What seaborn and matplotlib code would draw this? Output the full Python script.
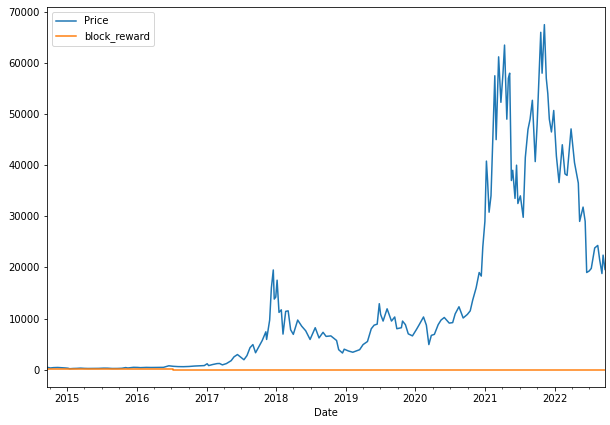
import numpy as np
import pandas as pd
import matplotlib
matplotlib.use("Agg")
import matplotlib.pyplot as plt
import matplotlib.dates as mdates
import seaborn as sns

# Bitcoin closing price (USD)
price_dates = [
    "2014-09-17", "2014-10-05", "2014-10-20", "2014-11-12", "2014-12-01", "2014-12-20",
    "2015-01-05", "2015-01-14", "2015-02-01", "2015-02-20", "2015-03-12", "2015-04-01",
    "2015-04-20", "2015-05-15", "2015-06-15", "2015-07-12", "2015-08-01", "2015-08-25",
    "2015-09-20", "2015-10-15", "2015-11-04", "2015-11-15", "2015-12-15", "2016-01-05",
    "2016-01-20", "2016-02-20", "2016-03-15", "2016-04-15", "2016-05-20", "2016-06-17",
    "2016-07-10", "2016-08-05", "2016-09-01", "2016-10-01", "2016-10-30", "2016-11-25",
    "2016-12-20", "2017-01-04", "2017-01-12", "2017-02-01", "2017-02-25", "2017-03-10",
    "2017-03-25", "2017-04-15", "2017-05-10", "2017-05-25", "2017-06-12", "2017-06-25",
    "2017-07-16", "2017-08-01", "2017-08-17", "2017-09-01", "2017-09-15", "2017-10-01",
    "2017-10-20", "2017-11-08", "2017-11-12", "2017-11-28", "2017-12-07", "2017-12-17",
    "2017-12-22", "2017-12-30", "2018-01-06", "2018-01-16", "2018-01-28", "2018-02-06",
    "2018-02-20", "2018-03-05", "2018-03-18", "2018-04-01", "2018-04-24", "2018-05-15",
    "2018-06-05", "2018-06-28", "2018-07-25", "2018-08-14", "2018-09-04", "2018-09-20",
    "2018-10-15", "2018-11-14", "2018-11-25", "2018-12-15", "2018-12-24", "2019-01-15",
    "2019-02-07", "2019-03-15", "2019-04-02", "2019-04-25", "2019-05-15", "2019-05-30",
    "2019-06-15", "2019-06-26", "2019-07-03", "2019-07-16", "2019-08-06", "2019-08-29",
    "2019-09-15", "2019-09-26", "2019-10-20", "2019-10-26", "2019-11-10", "2019-11-25",
    "2019-12-17", "2020-01-06", "2020-01-20", "2020-02-13", "2020-02-28", "2020-03-12",
    "2020-03-25", "2020-04-10", "2020-04-30", "2020-05-15", "2020-06-01", "2020-06-27",
    "2020-07-15", "2020-07-28", "2020-08-17", "2020-09-08", "2020-09-30", "2020-10-15",
    "2020-10-28", "2020-11-15", "2020-12-01", "2020-12-12", "2020-12-20", "2020-12-31",
    "2021-01-08", "2021-01-14", "2021-01-22", "2021-02-01", "2021-02-10", "2021-02-21",
    "2021-02-28", "2021-03-13", "2021-03-25", "2021-04-05", "2021-04-13", "2021-04-25",
    "2021-05-03", "2021-05-10", "2021-05-19", "2021-05-26", "2021-06-07", "2021-06-15",
    "2021-06-22", "2021-07-05", "2021-07-20", "2021-07-31", "2021-08-14", "2021-08-25",
    "2021-09-06", "2021-09-21", "2021-10-01", "2021-10-20", "2021-10-27", "2021-11-08",
    "2021-11-18", "2021-11-26", "2021-12-04", "2021-12-15", "2021-12-27", "2022-01-10",
    "2022-01-24", "2022-02-10", "2022-02-24", "2022-03-07", "2022-03-28", "2022-04-15",
    "2022-05-05", "2022-05-12", "2022-05-30", "2022-06-10", "2022-06-18", "2022-07-01",
    "2022-07-12", "2022-07-30", "2022-08-15", "2022-08-25", "2022-09-06", "2022-09-12",
    "2022-09-22",
]
price_values = [
    457, 320, 390, 420, 380, 330,
    275, 178, 225, 245, 290, 245,
    225, 237, 245, 290, 280, 225,
    230, 265, 400, 320, 450, 430,
    385, 435, 415, 425, 445, 750,
    650, 590, 575, 615, 700, 740,
    790, 1150, 790, 990, 1180, 1200,
    930, 1180, 1750, 2500, 2950, 2550,
    1930, 2750, 4300, 4900, 3300, 4400,
    5700, 7400, 5900, 9700, 16000, 19500,
    13800, 14200, 17500, 11200, 11700, 6950,
    11400, 11500, 7800, 6900, 9700, 8500,
    7600, 5900, 8200, 6200, 7300, 6500,
    6600, 5700, 3900, 3250, 4000, 3650,
    3400, 3900, 4900, 5500, 8000, 8700,
    8900, 12900, 10800, 9500, 11900, 9500,
    10300, 8000, 8200, 9500, 8800, 7000,
    6600, 7800, 8700, 10300, 8700, 4900,
    6700, 6900, 8800, 9700, 10200, 9100,
    9200, 10900, 12300, 10100, 10800, 11500,
    13600, 16000, 19000, 18300, 24000, 29000,
    40800, 37000, 30800, 34000, 44800, 57500,
    45000, 61200, 52300, 58000, 63500, 49000,
    57000, 58000, 37000, 39000, 33500, 40000,
    32500, 34000, 29800, 41500, 47000, 49000,
    52700, 40700, 48000, 66000, 58000, 67500,
    57000, 54000, 49000, 46500, 50700, 41800,
    36600, 44000, 38300, 38000, 47100, 40500,
    36500, 29000, 31800, 29000, 19000, 19300,
    19800, 23800, 24300, 21500, 18800, 22400,
    19600,
]

# block reward per halving period
reward_dates = ["2014-09-17", "2016-07-09", "2020-05-11", "2022-09-22"]
reward_values = [25.0, 12.5, 6.25, 6.25]

df = pd.DataFrame({"Date": pd.to_datetime(price_dates), "Price": price_values})
rw = pd.DataFrame({"Date": pd.to_datetime(reward_dates), "block_reward": reward_values})

fig = plt.figure(figsize=(610 / 72, 425 / 72), dpi=72)
ax = fig.add_axes([47 / 610, 1 - 387 / 425, 558 / 610, 380 / 425])

sns.lineplot(data=df, x="Date", y="Price", ax=ax, color="#1f77b4", lw=1.5, label="Price")
sns.lineplot(data=rw, x="Date", y="block_reward", ax=ax, color="#ff7f0e", lw=1.5,
             drawstyle="steps-post", label="block_reward")

ax.set_xlim(df["Date"].min(), df["Date"].max())
ax.set_ylim(-3400, 70950)
ax.set_yticks(np.arange(0, 70001, 10000))
ax.xaxis.set_major_locator(mdates.YearLocator())
ax.xaxis.set_major_formatter(mdates.DateFormatter("%Y"))
ax.xaxis.set_minor_locator(mdates.MonthLocator(bymonth=[4, 7, 10]))
ax.set_xlabel("Date")
ax.set_ylabel("")
ax.legend(loc="upper left")

fig.savefig("out.png", dpi=72)
